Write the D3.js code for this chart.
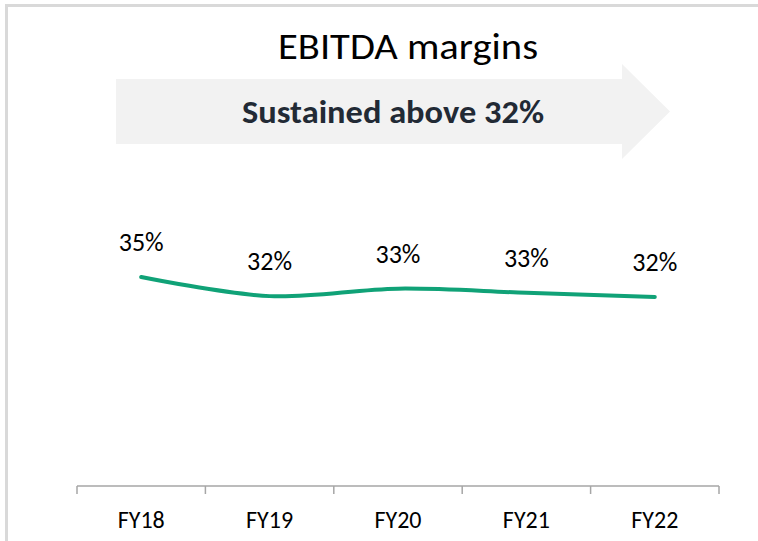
<!DOCTYPE html>
<html>
<head>
<meta charset="utf-8">
<script src="https://cdn.jsdelivr.net/npm/d3@7"></script>
<style>
  html, body { margin: 0; padding: 0; background: #fff; }
  svg { display: block; }
  text { font-family: Carlito, Lato, "Noto Sans", sans-serif; }
</style>
</head>
<body>
<svg id="chart" width="758" height="541"></svg>
<script>
var categories = ["FY18", "FY19", "FY20", "FY21", "FY22"];
var margins = [34.6, 32.3, 33.2, 32.7, 32.2];
var title = "EBITDA margins";
var banner = "Sustained above 32%";

var svg = d3.select("#chart");

// frame (left + top only)
svg.append("path")
    .attr("d", "M6.5,541 L6.5,5.5 L758,5.5")
    .attr("fill", "none")
    .attr("stroke", "#d9d9d9")
    .attr("stroke-width", 3);

var x = d3.scaleBand()
    .domain(categories)
    .range([77, 719]);

var y = d3.scaleLinear()
    .domain([9.5, 40])
    .range([486, 232]);

// banner arrow
var arrow = d3.path();
arrow.moveTo(116, 79);
arrow.lineTo(622, 79);
arrow.lineTo(622, 64);
arrow.lineTo(670, 111.5);
arrow.lineTo(622, 159);
arrow.lineTo(622, 144);
arrow.lineTo(116, 144);
arrow.closePath();

svg.append("path")
    .attr("d", arrow.toString())
    .attr("fill", "#f2f2f2");

svg.append("text")
    .attr("x", 408)
    .attr("y", 59)
    .attr("text-anchor", "middle")
    .attr("font-size", 37)
    .attr("textLength", 260)
    .attr("lengthAdjust", "spacingAndGlyphs")
    .attr("fill", "#000")
    .text(title);

svg.append("text")
    .attr("x", 393)
    .attr("y", 123)
    .attr("text-anchor", "middle")
    .attr("font-size", 32)
    .attr("font-weight", "bold")
    .attr("textLength", 302)
    .attr("lengthAdjust", "spacingAndGlyphs")
    .attr("fill", "#222a35")
    .text(banner);

// axis
var axis = svg.append("g")
    .attr("transform", "translate(0,486)");

axis.append("line")
    .attr("x1", x.range()[0])
    .attr("x2", x.range()[1])
    .attr("stroke", "#a6a6a6")
    .attr("stroke-width", 1.5);

axis.selectAll(".tick")
    .data(categories.concat([null]))
    .enter().append("line")
    .attr("class", "tick")
    .attr("x1", function(d) { return d === null ? x.range()[1] : x(d); })
    .attr("x2", function(d) { return d === null ? x.range()[1] : x(d); })
    .attr("y1", 0)
    .attr("y2", 8)
    .attr("stroke", "#a6a6a6")
    .attr("stroke-width", 1.5);

axis.selectAll(".label")
    .data(categories)
    .enter().append("text")
    .attr("class", "label")
    .attr("x", function(d) { return x(d) + x.bandwidth() / 2; })
    .attr("y", 42)
    .attr("text-anchor", "middle")
    .attr("font-size", 24)
    .attr("fill", "#000")
    .text(function(d) { return d; });

// line
var line = d3.line()
    .x(function(d, i) { return x(categories[i]) + x.bandwidth() / 2; })
    .y(function(d) { return y(d); })
    .curve(d3.curveCatmullRom.alpha(0.5));

svg.append("path")
    .datum(margins)
    .attr("d", line)
    .attr("fill", "none")
    .attr("stroke", "#10a277")
    .attr("stroke-width", 4)
    .attr("stroke-linecap", "round");

var fmt = d3.format(".0f");

svg.selectAll(".value")
    .data(margins)
    .enter().append("text")
    .attr("class", "value")
    .attr("x", function(d, i) { return x(categories[i]) + x.bandwidth() / 2; })
    .attr("y", function(d) { return y(d) - 26; })
    .attr("text-anchor", "middle")
    .attr("font-size", 26)
    .attr("fill", "#000")
    .text(function(d) { return fmt(d) + "%"; });
</script>
</body>
</html>
